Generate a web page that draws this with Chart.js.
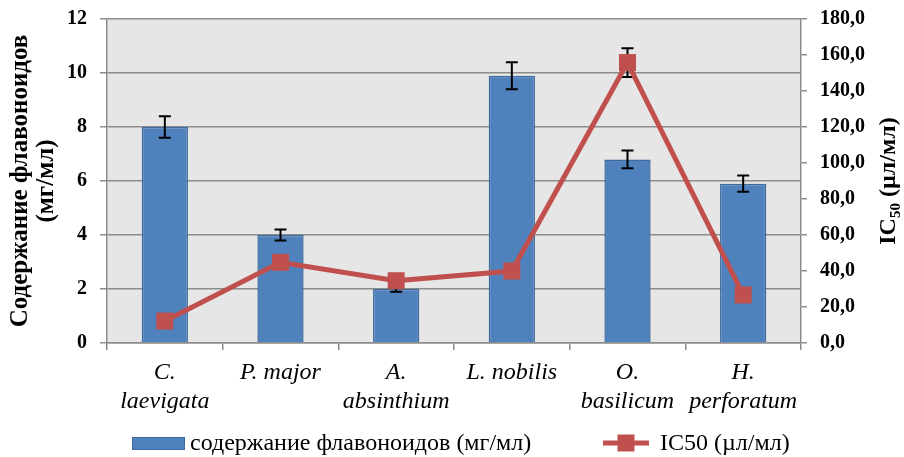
<!DOCTYPE html>
<html>
<head>
<meta charset="utf-8">
<script src="https://cdn.jsdelivr.net/npm/chart.js@4.4.1/dist/chart.umd.min.js"></script>
<style>
  html, body { margin: 0; padding: 0; background: #ffffff; }
  #wrap { width: 904px; height: 457px; }
</style>
</head>
<body>
<div id="wrap"><canvas id="chart" width="904" height="457"></canvas></div>
<script>
// Plant species (category labels, split over two lines where needed)
const species = [
  ['C.', 'laevigata'],
  'P. major',
  ['A.', 'absinthium'],
  'L. nobilis',
  ['O.', 'basilicum'],
  ['H.', 'perforatum']
];

// Flavonoid content, mg/ml, with standard deviation
const flavonoids = [8.0, 4.0, 2.0, 9.9, 6.8, 5.9];
const flavonoidsErr = [0.4, 0.2, 0.1, 0.5, 0.33, 0.3];

// IC50, µl/ml, with standard deviation
const ic50 = [12.2, 44.8, 34.6, 40.0, 155.8, 26.7];
const ic50Err = [null, null, null, null, 8, null];

// Axis tick settings
const leftTicks = { min: 0, max: 12, step: 2 };
const rightTicks = { min: 0, max: 180, step: 20 };

const legendLabels = ['содержание флавоноидов (мг/мл)', 'IC50 (µл/мл)'];
const rightTitle = { main: 'IC', sub: '50', rest: ' (µл/мл)' };

const BLUE = '#4F81BD';
const BLUE_EDGE = '#3D6B9E';
const RED = '#C0504D';
const AXIS = '#8C8C8C';
const SERIF = '"Liberation Serif", "Times New Roman", serif';

// Grey plot background
const plotBackground = {
  id: 'plotBackground',
  beforeDraw(chart) {
    const { ctx, chartArea: a } = chart;
    ctx.save();
    ctx.fillStyle = '#E6E6E6';
    ctx.fillRect(a.left, a.top, a.right - a.left, a.bottom - a.top);
    ctx.restore();
  }
};

// Error bars, painted just before the line so the markers sit on top
const errorBars = {
  id: 'errorBars',
  beforeDatasetDraw(chart, args) {
    if (args.index !== 1) return;
    const { ctx } = chart;
    const x = chart.scales.x;
    const draw = (values, errs, scale) => {
      values.forEach((v, i) => {
        const e = errs[i];
        if (e == null) return;
        const cx = x.getPixelForValue(i);
        const yTop = scale.getPixelForValue(v + e);
        const yBot = scale.getPixelForValue(v - e);
        ctx.beginPath();
        ctx.moveTo(cx, yTop); ctx.lineTo(cx, yBot);
        ctx.moveTo(cx - 6, yTop); ctx.lineTo(cx + 6, yTop);
        ctx.moveTo(cx - 6, yBot); ctx.lineTo(cx + 6, yBot);
        ctx.stroke();
      });
    };
    ctx.save();
    ctx.strokeStyle = '#000000';
    ctx.lineWidth = 2;
    draw(flavonoids, flavonoidsErr, chart.scales.y);
    draw(ic50, ic50Err, chart.scales.y1);
    ctx.restore();
  }
};

// Right axis title with subscript, reading bottom to top
const rightAxisTitle = {
  id: 'rightAxisTitle',
  afterDraw(chart) {
    const { ctx, chartArea: a } = chart;
    const big = 'bold 24px ' + SERIF;
    const small = 'bold 15px ' + SERIF;
    ctx.save();
    ctx.font = big;
    const wMain = ctx.measureText(rightTitle.main).width;
    const wRest = ctx.measureText(rightTitle.rest).width;
    ctx.font = small;
    const wSub = ctx.measureText(rightTitle.sub).width;
    const total = wMain + wSub + wRest;
    ctx.translate(889, (a.top + a.bottom) / 2);
    ctx.rotate(-Math.PI / 2);
    ctx.fillStyle = '#000000';
    ctx.textBaseline = 'middle';
    ctx.textAlign = 'left';
    let px = -total / 2;
    ctx.font = big;
    ctx.fillText(rightTitle.main, px, 0);
    px += wMain;
    ctx.font = small;
    ctx.fillText(rightTitle.sub, px, 7);
    px += wSub;
    ctx.font = big;
    ctx.fillText(rightTitle.rest, px, 0);
    ctx.restore();
  }
};

// Legend under the axis labels
const bottomLegend = {
  id: 'bottomLegend',
  afterDraw(chart) {
    const { ctx } = chart;
    const y = 443;
    ctx.save();
    ctx.font = '24px ' + SERIF;
    ctx.textBaseline = 'middle';
    ctx.textAlign = 'left';

    ctx.fillStyle = BLUE;
    ctx.strokeStyle = BLUE_EDGE;
    ctx.lineWidth = 1;
    ctx.fillRect(132, y - 6, 53, 13);
    ctx.strokeRect(132.5, y - 5.5, 52, 12);
    ctx.fillStyle = '#000000';
    ctx.fillText(legendLabels[0], 190, y + 1);

    ctx.strokeStyle = RED;
    ctx.lineWidth = 5;
    ctx.beginPath();
    ctx.moveTo(603, y); ctx.lineTo(649, y);
    ctx.stroke();
    ctx.fillStyle = RED;
    ctx.fillRect(617.5, y - 8.5, 17, 17);
    ctx.fillStyle = '#000000';
    ctx.fillText(legendLabels[1], 660, y + 1);
    ctx.restore();
  }
};

const fmtComma = v => v.toFixed(1).replace('.', ',');

// Keep the plot area flush with the layout padding
const noScalePadding = s => { s.paddingTop = 0; s.paddingBottom = 0; };

new Chart(document.getElementById('chart'), {
  data: {
    labels: species,
    datasets: [
      {
        type: 'bar',
        label: legendLabels[0],
        data: flavonoids,
        yAxisID: 'y',
        backgroundColor: BLUE,
        borderColor: BLUE_EDGE,
        borderWidth: 1.5,
        categoryPercentage: 1,
        barPercentage: 0.4,
        order: 1
      },
      {
        type: 'line',
        label: legendLabels[1],
        data: ic50,
        yAxisID: 'y1',
        borderColor: RED,
        backgroundColor: RED,
        borderWidth: 5,
        pointStyle: 'rect',
        pointRadius: 12,
        pointBorderWidth: 0,
        pointBackgroundColor: RED,
        tension: 0,
        order: 0
      }
    ]
  },
  options: {
    responsive: false,
    animation: false,
    layout: { padding: { top: 19, right: 0, bottom: 0, left: 0 } },
    plugins: {
      legend: { display: false },
      tooltip: { enabled: false }
    },
    scales: {
      x: {
        offset: true,
        grid: { offset: true, drawOnChartArea: false, drawTicks: true, tickLength: 7, color: AXIS, lineWidth: 1.5 },
        border: { color: AXIS, width: 1.5 },
        ticks: {
          color: '#000000',
          padding: 8,
          maxRotation: 0,
          autoSkip: false,
          font: { family: SERIF, size: 24, style: 'italic', lineHeight: 1.2 }
        },
        afterFit(s) { s.height = 114; }
      },
      y: {
        position: 'left',
        min: leftTicks.min,
        max: leftTicks.max,
        ticks: {
          stepSize: leftTicks.step,
          color: '#000000',
          padding: 13,
          font: { family: SERIF, size: 20, weight: 'bold' }
        },
        grid: { color: AXIS, lineWidth: 1.5, tickLength: 7 },
        border: { color: AXIS, width: 1.5 },
        title: {
          display: true,
          text: ['Содержание флавоноидов', '(мг/мл)'],
          color: '#000000',
          padding: { top: 7, bottom: 0 },
          font: { family: SERIF, size: 25, weight: 'bold', lineHeight: 1.06 }
        },
        afterFit(s) { s.width = 107; noScalePadding(s); }
      },
      y1: {
        position: 'right',
        min: rightTicks.min,
        max: rightTicks.max,
        ticks: {
          stepSize: rightTicks.step,
          color: '#000000',
          padding: 13,
          font: { family: SERIF, size: 20, weight: 'bold' },
          callback: v => fmtComma(v)
        },
        grid: { drawOnChartArea: false, color: AXIS, lineWidth: 1.5, tickLength: 6 },
        border: { color: AXIS, width: 1.5 },
        afterFit(s) { s.width = 103; noScalePadding(s); }
      }
    }
  },
  plugins: [plotBackground, errorBars, rightAxisTitle, bottomLegend]
});
</script>
</body>
</html>
